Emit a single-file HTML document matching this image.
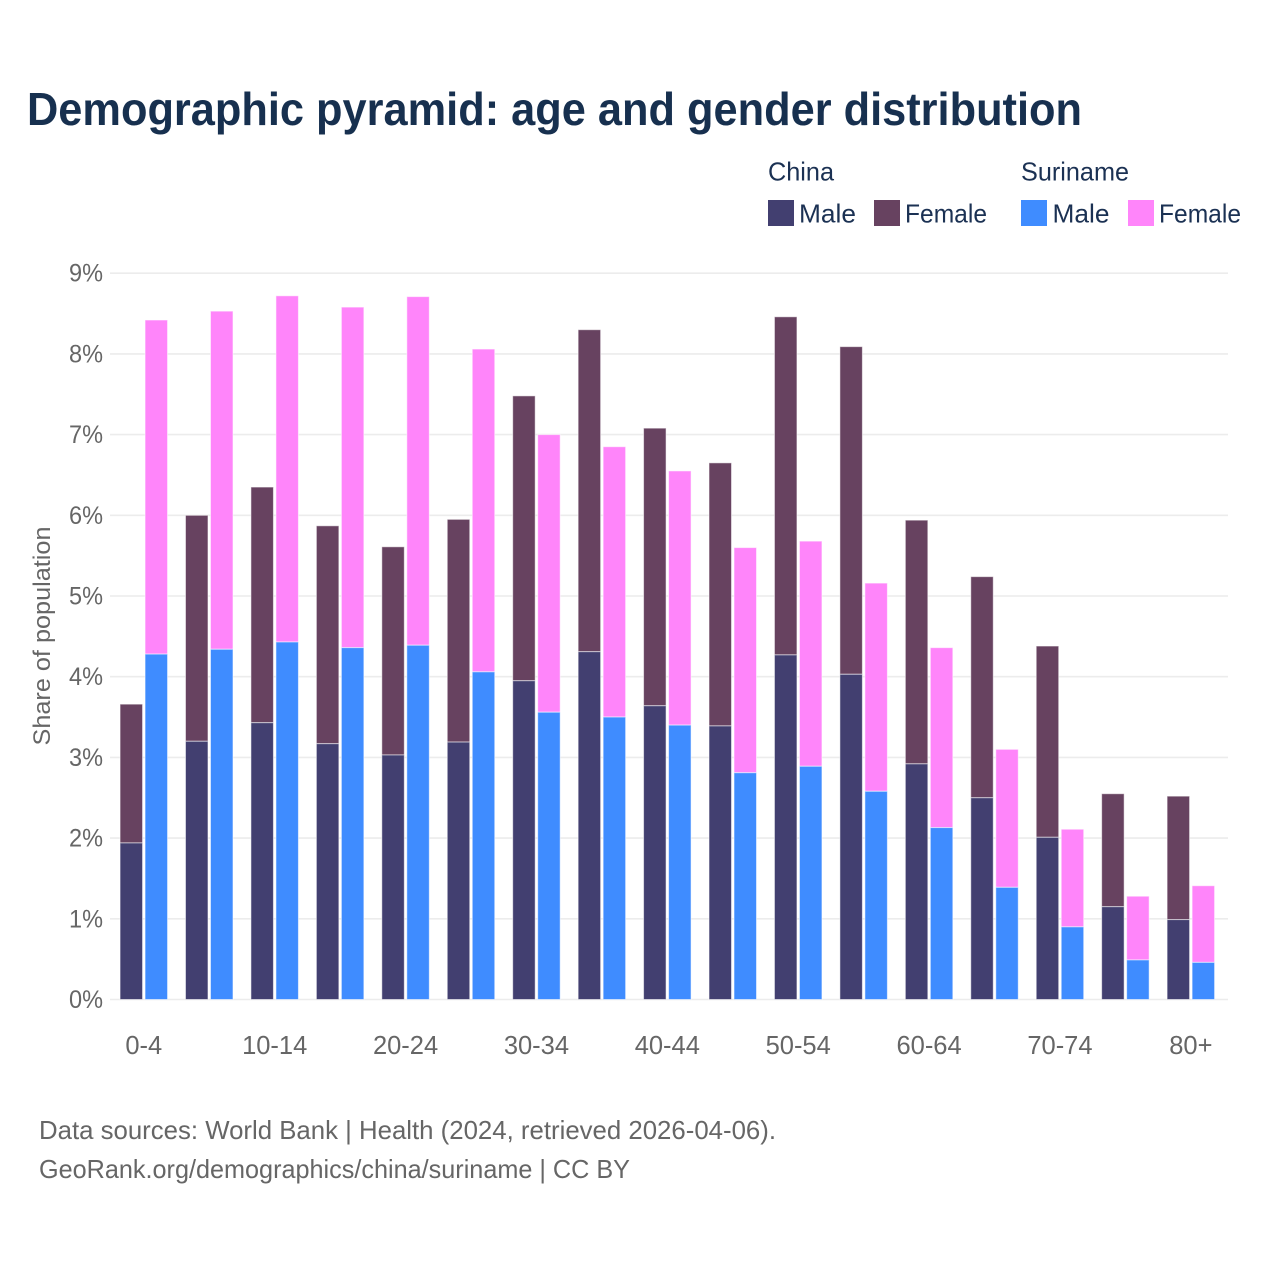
<!DOCTYPE html>
<html lang="en">
<head>
<meta charset="utf-8">
<title>Demographic pyramid</title>
<style>
html,body{margin:0;padding:0;background:#fff;width:1280px;height:1280px;overflow:hidden}
svg{display:block}
text{font-family:"Liberation Sans",sans-serif}
</style>
</head>
<body>
<svg id="chart" xmlns="http://www.w3.org/2000/svg" width="1280" height="1280" viewBox="0 0 1280 1280">
  <rect width="1280" height="1280" fill="#ffffff"/>
  <text x="27" y="125" font-size="46" font-weight="700" fill="#17304f" textLength="1055" lengthAdjust="spacingAndGlyphs">Demographic pyramid: age and gender distribution</text>

  <g font-size="26" fill="#1b3153">
    <text x="768" y="180.5" textLength="66" lengthAdjust="spacingAndGlyphs">China</text>
    <text x="1021" y="180.5" textLength="108" lengthAdjust="spacingAndGlyphs">Suriname</text>
    <rect x="768" y="200" width="26" height="26" fill="#423f70"/>
    <text x="799" y="222.5" textLength="57" lengthAdjust="spacingAndGlyphs">Male</text>
    <rect x="874" y="200" width="26" height="26" fill="#674260"/>
    <text x="905" y="222.5" textLength="82" lengthAdjust="spacingAndGlyphs">Female</text>
    <rect x="1021" y="200" width="26" height="26" fill="#3f8cff"/>
    <text x="1052.5" y="222.5" textLength="57" lengthAdjust="spacingAndGlyphs">Male</text>
    <rect x="1128" y="200" width="26" height="26" fill="#ff85fa"/>
    <text x="1159" y="222.5" textLength="82" lengthAdjust="spacingAndGlyphs">Female</text>
  </g>

  <g id="grid"></g>
  <g id="y-ticks"></g>
  <g id="bars"></g>
  <g id="x-ticks"></g>

  <text transform="translate(50,636) rotate(-90)" text-anchor="middle" font-size="24" fill="#666666" textLength="219" lengthAdjust="spacingAndGlyphs">Share of population</text>

  <text x="39" y="1139" font-size="26" fill="#666666" textLength="737" lengthAdjust="spacingAndGlyphs">Data sources: World Bank | Health (2024, retrieved 2026-04-06).</text>
  <text x="39" y="1178" font-size="26" fill="#666666" textLength="591" lengthAdjust="spacingAndGlyphs">GeoRank.org/demographics/china/suriname | CC BY</text>
</svg>
<script>
const categories = ["0-4","5-9","10-14","15-19","20-24","25-29","30-34","35-39","40-44","45-49","50-54","55-59","60-64","65-69","70-74","75-79","80+"];
const chinaMale = [1.94,3.20,3.43,3.17,3.03,3.19,3.95,4.31,3.64,3.39,4.27,4.03,2.92,2.50,2.01,1.15,0.99];
const chinaFemale = [1.72,2.80,2.92,2.70,2.58,2.76,3.53,3.99,3.44,3.26,4.19,4.06,3.02,2.74,2.37,1.40,1.53];
const surinameMale = [4.28,4.34,4.43,4.36,4.39,4.06,3.56,3.50,3.40,2.81,2.89,2.58,2.13,1.39,0.90,0.49,0.46];
const surinameFemale = [4.14,4.19,4.29,4.22,4.32,4.00,3.44,3.35,3.15,2.79,2.79,2.58,2.23,1.71,1.21,0.79,0.95];
const yTicks = [0,1,2,3,4,5,6,7,8,9];

const SVG_NS = "http://www.w3.org/2000/svg";
const y0 = 999.5, yPerUnit = 80.7;
const x0 = 143.8, xStep = 65.44, barW = 22.5, barOffset = 12.5;
function yScale(v){ return y0 - v * yPerUnit; }
function xScale(i){ return x0 + i * xStep; }

const gridG = document.getElementById("grid");
const yG = document.getElementById("y-ticks");
const xG = document.getElementById("x-ticks");
const barsG = document.getElementById("bars");

yTicks.forEach(function(t){
  const line = document.createElementNS(SVG_NS, "line");
  
  
  line.setAttribute("x1", 110);
  line.setAttribute("x2", 1228);
  line.setAttribute("y1", yScale(t));
  line.setAttribute("y2", yScale(t));
  line.setAttribute("stroke", "#ececec");
  line.setAttribute("stroke-width", 1.6);
  gridG.appendChild(line);

  const label = document.createElementNS(SVG_NS, "text");
  
  
  label.setAttribute("x", 69);
  label.setAttribute("y", yScale(t) + 8.5);
  label.setAttribute("font-size", 25);
  label.setAttribute("fill", "#666666");
  label.setAttribute("textLength", 34);
  label.setAttribute("lengthAdjust", "spacingAndGlyphs");
  label.textContent = t + "%";
  yG.appendChild(label);
});

categories.forEach(function(c, i){
  if (i % 2 !== 0) return;
  const label = document.createElementNS(SVG_NS, "text");
  
  
  label.setAttribute("x", xScale(i));
  label.setAttribute("y", 1054);
  label.setAttribute("text-anchor", "middle");
  label.setAttribute("font-size", 25.5);
  label.setAttribute("fill", "#666666");
  label.textContent = c;
  xG.appendChild(label);
});

function drawBar(parent, x, bottom, value, fill){
  const rect = document.createElementNS(SVG_NS, "rect");
  
  
  rect.setAttribute("x", x);
  rect.setAttribute("y", yScale(bottom + value));
  rect.setAttribute("width", barW);
  rect.setAttribute("height", value * yPerUnit);
  rect.setAttribute("fill", fill);
  rect.setAttribute("stroke", "#ffffff");
  rect.setAttribute("stroke-opacity", 0.55);
  rect.setAttribute("stroke-width", 1);
  parent.appendChild(rect);
}

categories.forEach(function(c, i){
  const xc = xScale(i);
  const leftX = xc - barOffset - barW / 2;
  const rightX = xc + barOffset - barW / 2;
  drawBar(barsG, leftX, chinaMale[i], chinaFemale[i], "#674260");
  drawBar(barsG, leftX, 0, chinaMale[i], "#423f70");
  drawBar(barsG, rightX, surinameMale[i], surinameFemale[i], "#ff85fa");
  drawBar(barsG, rightX, 0, surinameMale[i], "#3f8cff");
});
</script>
</body>
</html>
